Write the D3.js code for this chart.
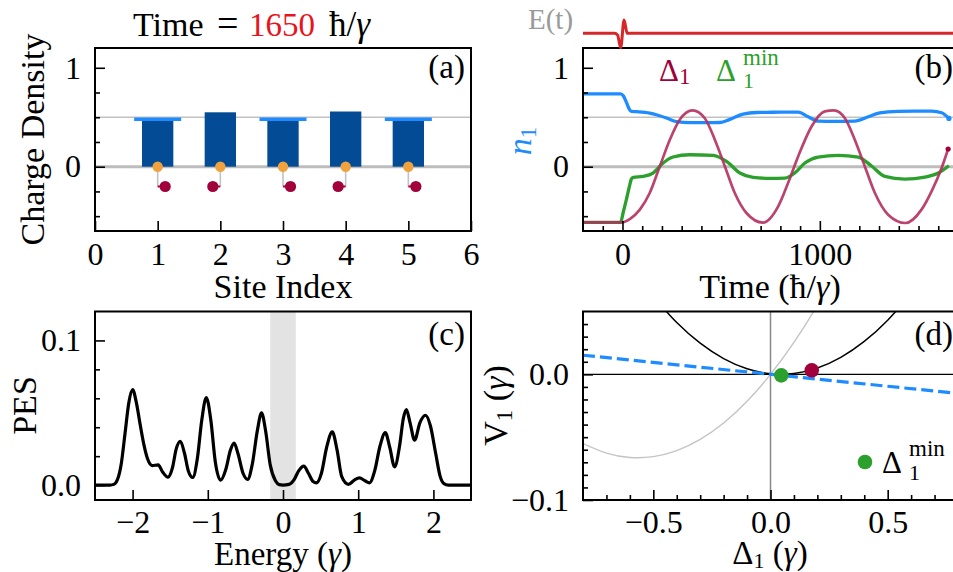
<!DOCTYPE html>
<html>
<head>
<meta charset="utf-8">
<script src="https://cdn.jsdelivr.net/npm/d3@7/dist/d3.min.js"></script>
<style>
  body { margin: 0; background: #fff; }
  svg { display: block; }
  text { font-family: "Liberation Serif", "Times New Roman", serif; }
</style>
</head>
<body>
<svg id="fig" width="953" height="572"></svg>
<script>
// ---------- (a) charge density per site ----------
const sites = [1, 2, 3, 4, 5];
const chargeDensity = [0.465, 0.55, 0.465, 0.558, 0.465];
const referenceLevel = [0.48, null, 0.48, null, 0.48];
const siteDisplacement = [0.12, -0.12, 0.12, -0.12, 0.12];
const displacedRow = -0.2;
const snapshotTime = 1650;

// ---------- (b) time evolution ----------
const fieldTime  = [-200, -40, -25, -9, 8, 24, 1700];
const fieldValue = [0, 0, -0.12, -1.07, 0.98, 0, 0];

const n1Time = [-200, -10, 5, 20, 35, 45, 70, 138, 180, 223, 274, 342, 420, 494, 544, 611, 680, 730,
                800, 890, 941, 991, 1080, 1177, 1245, 1304, 1397, 1480, 1566, 1617, 1654];
const n1Value = [0.737, 0.737, 0.715, 0.65, 0.58, 0.559, 0.556, 0.542, 0.52, 0.492, 0.455, 0.445, 0.446,
                 0.447, 0.478, 0.532, 0.548, 0.549, 0.552, 0.552, 0.505, 0.461, 0.458, 0.461, 0.505,
                 0.545, 0.56, 0.562, 0.562, 0.545, 0.488];

const deltaTime = [-200, -2, 37, 88, 138, 189, 240, 290, 355, 417, 468, 519, 569, 628, 712, 789, 839,
                   890, 958, 1025, 1071, 1127, 1177, 1228, 1279, 1346, 1434, 1515, 1566, 1617, 1650];
const deltaValue = [-0.562, -0.562, -0.529, -0.434, -0.266, 0.003, 0.273, 0.475, 0.569, 0.49, 0.273,
                    0.003, -0.266, -0.468, -0.565, -0.401, -0.165, 0.104, 0.407, 0.559, 0.569, 0.49,
                    0.273, 0.003, -0.266, -0.485, -0.569, -0.434, -0.249, -0.013, 0.179];

const deltaMinTime = [-200, -10, 5, 20, 35, 45, 55, 104, 155, 206, 256, 341, 459, 527, 595, 662, 747,
                      823, 873, 924, 991, 1093, 1194, 1262, 1329, 1431, 1532, 1600, 1654];
const deltaMinValue = [-0.562, -0.562, -0.45, -0.33, -0.2, -0.125, -0.108, -0.098, -0.064, 0.037, 0.098,
                       0.121, 0.115, 0.054, -0.064, -0.108, -0.118, -0.115, -0.064, 0.037, 0.098, 0.115,
                       0.098, 0.007, -0.098, -0.125, -0.105, -0.064, 0.01];

// ---------- (c) photoemission spectrum ----------
const energy = [-2.5, -2.3, -2.25, -2.2, -2.15, -2.1, -2.05, -2.0, -1.95, -1.9, -1.85, -1.8, -1.74, -1.66,
                -1.6, -1.53, -1.47, -1.42, -1.365, -1.31, -1.26, -1.2, -1.14, -1.08, -1.02, -0.96, -0.9,
                -0.83, -0.76, -0.7, -0.65, -0.6, -0.53, -0.47, -0.41, -0.34, -0.285, -0.23, -0.17, -0.1,
                -0.05, 0.0, 0.08, 0.15, 0.21, 0.276, 0.34, 0.4, 0.446, 0.51, 0.58, 0.655, 0.72, 0.78,
                0.87, 0.95, 1.016, 1.09, 1.15, 1.22, 1.29, 1.36, 1.42, 1.484, 1.55, 1.6, 1.64, 1.69,
                1.75, 1.82, 1.894, 1.96, 2.03, 2.09, 2.14, 2.2, 2.5];
const pes = [0, 0, 0.0005, 0.004, 0.015, 0.036, 0.057, 0.066, 0.057, 0.042, 0.028, 0.018, 0.0135, 0.014,
             0.009, 0.0055, 0.012, 0.025, 0.0303, 0.022, 0.01, 0.0053, 0.018, 0.045, 0.0605, 0.045, 0.016,
             0.0034, 0.011, 0.024, 0.029, 0.022, 0.008, 0.0039, 0.014, 0.038, 0.0499, 0.037, 0.014, 0.003,
             0.0003, 0, 0.0005, 0.004, 0.01, 0.0131, 0.008, 0.0025, 0.0016, 0.008, 0.026, 0.0368, 0.024,
             0.006, 0.0005, 0.0035, 0.005, 0.003, 0.0016, 0.01, 0.027, 0.0363, 0.026, 0.0126, 0.027,
             0.046, 0.0522, 0.043, 0.031, 0.043, 0.0483, 0.041, 0.022, 0.006, 0.001, 0, 0];
const gapBand = [-0.17, 0.17];

// ---------- (d) potential landscape ----------
const potDelta = [-0.5, -0.4, -0.3, -0.2, -0.1, 0.0, 0.1, 0.2, 0.3, 0.4, 0.5, 0.6];
const potNow   = [0.0618, 0.0412, 0.0248, 0.0125, 0.0044, 0.0004, 0.0006, 0.005, 0.0135, 0.0262, 0.0431, 0.0641];
const potInitDelta = [-0.8, -0.7, -0.6, -0.5, -0.4, -0.3, -0.2, -0.1, 0.0, 0.1, 0.2, 0.3];
const potInit      = [-0.0551, -0.0627, -0.0662, -0.0655, -0.0607, -0.0518, -0.0387, -0.0214, 0.0, 0.0254, 0.0551, 0.0888];
const forceDelta = [-0.8, 0.8];
const forceLine  = [0.0152, -0.0152];
const currentPoint = [0.176, 0.0032];
const minimumPoint = [0.046, -0.0008];

// ---------- drawing ----------
const svg = d3.select("#fig");
const FS = 32;      // tick labels
const LS = 34;      // axis labels
const C = {
  bar: "#044b96", ref: "#1e8cff", orange: "#f0a23e", crimson: "#a2003b",
  n1: "#1e8cff", delta: "#b3305e", deltaMin: "#2ca02c", field: "#d62728",
  grid: "#c2c2c2", zeroGrid: "#bdbdbd"
};

function makePanel(id, box, xDomain, yDomain) {
  const x = d3.scaleLinear().domain(xDomain).range([box.left, box.right]);
  const y = d3.scaleLinear().domain(yDomain).range([box.bottom, box.top]);
  svg.append("clipPath").attr("id", "clip-" + id).append("rect")
    .attr("x", box.left).attr("y", box.top)
    .attr("width", box.right - box.left).attr("height", box.bottom - box.top);
  const plot = svg.append("g").attr("clip-path", `url(#clip-${id})`);
  return { x, y, plot, box };
}

function styleAxis(g) {
  g.select(".domain").remove();
  g.selectAll(".tick line").attr("stroke", "#000").attr("stroke-width", 1.6);
  g.selectAll("text").attr("font-size", FS).attr("font-family", '"Liberation Serif", serif').attr("fill", "#000");
}

function drawAxes(p, o) {
  const b = p.box;
  // major ticks point inward
  styleAxis(svg.append("g").attr("transform", `translate(0,${b.bottom})`)
    .call(d3.axisBottom(p.x).tickValues(o.xMajor).tickSize(-10).tickPadding(o.xPad || 11).tickFormat(o.xFmt)));
  if (o.xMinor) styleAxis(svg.append("g").attr("transform", `translate(0,${b.bottom})`)
    .call(d3.axisBottom(p.x).tickValues(o.xMinor).tickSize(-5).tickFormat("")));
  styleAxis(svg.append("g").attr("transform", `translate(${b.left},0)`)
    .call(d3.axisLeft(p.y).tickValues(o.yMajor).tickSize(-10).tickPadding(14).tickFormat(o.yFmt)));
  if (o.yMinor) styleAxis(svg.append("g").attr("transform", `translate(${b.left},0)`)
    .call(d3.axisLeft(p.y).tickValues(o.yMinor).tickSize(-5).tickFormat("")));
  svg.append("rect").attr("x", b.left).attr("y", b.top)
    .attr("width", b.right - b.left).attr("height", b.bottom - b.top)
    .attr("fill", "none").attr("stroke", "#000").attr("stroke-width", 2);
}

function label(x, y, parts, opts = {}) {
  const g = svg.append("g").attr("transform", `translate(${x},${y})` + (opts.rotate ? " rotate(-90)" : ""));
  const t = g.append("text").attr("font-size", opts.size || LS)
    .attr("text-anchor", opts.anchor || "middle").attr("fill", opts.fill || "#000");
  parts.forEach(p => {
    const s = t.append("tspan").text(p.t);
    if (p.dy) s.attr("dy", p.dy);
    if (p.size) s.attr("font-size", p.size);
    if (p.italic) s.attr("font-style", "italic");
    if (p.fill) s.attr("fill", p.fill);
  });
  return t;
}

const zip = (a, b) => a.map((v, i) => [v, b[i]]);

// ---------------- panel (a) ----------------
const pa = makePanel("a", { left: 95, right: 471, top: 48, bottom: 231 }, [0, 6], [-0.65, 1.2]);
pa.plot.append("line").attr("x1", pa.box.left).attr("x2", pa.box.right)
  .attr("y1", pa.y(0.5)).attr("y2", pa.y(0.5)).attr("stroke", C.grid).attr("stroke-width", 1.5);
pa.plot.append("line").attr("x1", pa.box.left).attr("x2", pa.box.right)
  .attr("y1", pa.y(0)).attr("y2", pa.y(0)).attr("stroke", C.zeroGrid).attr("stroke-width", 3);
const siteData = sites.map((s, i) => ({ s, n: chargeDensity[i], ref: referenceLevel[i], d: siteDisplacement[i] }));
pa.plot.selectAll(".bar").data(siteData).join("rect").attr("class", "bar")
  .attr("x", d => pa.x(d.s - 0.25)).attr("width", d => pa.x(d.s + 0.25) - pa.x(d.s - 0.25))
  .attr("y", d => pa.y(d.n)).attr("height", d => pa.y(0) - pa.y(d.n)).attr("fill", C.bar);
pa.plot.selectAll(".ref").data(siteData.filter(d => d.ref !== null)).join("line").attr("class", "ref")
  .attr("x1", d => pa.x(d.s - 0.375)).attr("x2", d => pa.x(d.s + 0.375))
  .attr("y1", d => pa.y(d.ref)).attr("y2", d => pa.y(d.ref)).attr("stroke", C.ref).attr("stroke-width", 3.5);
pa.plot.selectAll(".stem").data(siteData).join("line").attr("class", "stem")
  .attr("x1", d => pa.x(d.s)).attr("x2", d => pa.x(d.s))
  .attr("y1", pa.y(0)).attr("y2", pa.y(displacedRow)).attr("stroke", C.grid).attr("stroke-width", 1.6);
pa.plot.selectAll(".arm").data(siteData).join("line").attr("class", "arm")
  .attr("x1", d => pa.x(d.s)).attr("x2", d => pa.x(d.s + d.d))
  .attr("y1", pa.y(displacedRow)).attr("y2", pa.y(displacedRow)).attr("stroke", C.crimson).attr("stroke-width", 2);
pa.plot.selectAll(".site").data(siteData).join("circle").attr("class", "site")
  .attr("cx", d => pa.x(d.s)).attr("cy", pa.y(0)).attr("r", 5.2).attr("fill", C.orange);
pa.plot.selectAll(".ion").data(siteData).join("circle").attr("class", "ion")
  .attr("cx", d => pa.x(d.s + d.d)).attr("cy", pa.y(displacedRow)).attr("r", 5.6).attr("fill", C.crimson);
drawAxes(pa, { xMajor: [0, 1, 2, 3, 4, 5, 6], xFmt: d3.format("d"),
               yMajor: [0, 1], yFmt: d3.format("d"), yMinor: [-0.5, -0.25, 0.25, 0.5, 0.75] });
label(44, 139.5, [{ t: "Charge Density" }], { rotate: true });
label(283, 298, [{ t: "Site Index" }]);
// title, assembled piece by piece
label(133, 36, [{ t: "Time" }], { anchor: "start", size: 34 });
label(217, 36, [{ t: "=" }], { anchor: "start", size: 38 });
label(249, 36, [{ t: String(snapshotTime) }], { anchor: "start", size: 33, fill: "#e8141c" });
label(329, 36, [{ t: "ħ/" }, { t: "γ", italic: true }], { anchor: "start", size: 35 });
label(465, 78, [{ t: "(a)" }], { anchor: "end", size: 33 });

// ---------------- panel (b) ----------------
const pb = makePanel("b", { left: 583, right: 958, top: 48, bottom: 231 }, [-200, 1700], [-0.65, 1.2]);
pb.plot.append("line").attr("x1", pb.box.left).attr("x2", pb.box.right)
  .attr("y1", pb.y(0.5)).attr("y2", pb.y(0.5)).attr("stroke", C.grid).attr("stroke-width", 1.5);
pb.plot.append("line").attr("x1", pb.box.left).attr("x2", pb.box.right)
  .attr("y1", pb.y(0)).attr("y2", pb.y(0)).attr("stroke", C.zeroGrid).attr("stroke-width", 3);
const lineB = d3.line().x(d => pb.x(d[0])).y(d => pb.y(d[1])).curve(d3.curveMonotoneX);
pb.plot.append("path").attr("d", lineB(zip(n1Time, n1Value)))
  .attr("fill", "none").attr("stroke", C.n1).attr("stroke-width", 3.3);
pb.plot.append("circle").attr("cx", pb.x(n1Time.at(-1))).attr("cy", pb.y(n1Value.at(-1))).attr("r", 2.6).attr("fill", C.n1);
pb.plot.append("path").attr("d", lineB(zip(deltaMinTime, deltaMinValue)))
  .attr("fill", "none").attr("stroke", C.deltaMin).attr("stroke-width", 3.3);
pb.plot.append("path").attr("d", lineB(zip(deltaTime, deltaValue)))
  .attr("fill", "none").attr("stroke", C.delta).attr("stroke-width", 2.7).attr("stroke-opacity", 0.9);
pb.plot.append("circle").attr("cx", pb.x(deltaTime.at(-1))).attr("cy", pb.y(deltaValue.at(-1))).attr("r", 2.6).attr("fill", C.crimson);
drawAxes(pb, { xMajor: [0, 1000], xFmt: d3.format("d"),
               xMinor: [-100, 100, 200, 300, 400, 500, 600, 700, 800, 900, 1100, 1200, 1300, 1400, 1500, 1600],
               yMajor: [0, 1], yFmt: d3.format("d"), yMinor: [-0.5, -0.25, 0.25, 0.5, 0.75] });
// driving field strip above the panel
const yField = d3.scaleLinear().domain([-1, 1]).range([46.8, 19.8]);
svg.append("clipPath").attr("id", "clip-field").append("rect").attr("x", 582).attr("y", 0).attr("width", 376).attr("height", 50);
svg.append("path").attr("clip-path", "url(#clip-field)")
  .attr("d", d3.line().x(d => pb.x(d[0])).y(d => yField(d[1])).curve(d3.curveMonotoneX)(zip(fieldTime, fieldValue)))
  .attr("fill", "none").attr("stroke", C.field).attr("stroke-width", 3);
label(528, 29, [{ t: "E(t)" }], { anchor: "start", size: 29, fill: "#9a9a9a" });
label(531, 141, [{ t: "n", italic: true }, { t: "1", size: 23, dy: 5 }], { rotate: true, fill: C.n1 });
label(770, 298, [{ t: "Time (ħ/" }, { t: "γ", italic: true }, { t: ")" }]);
label(953, 78, [{ t: "(b)" }], { anchor: "end", size: 33 });
label(659, 81, [{ t: "Δ" }, { t: "1", size: 23, dy: 3 }], { anchor: "start", size: 31, fill: C.crimson });
label(716, 81, [{ t: "Δ" }], { anchor: "start", size: 31, fill: C.deltaMin });
label(743, 65, [{ t: "min" }], { anchor: "start", size: 23, fill: C.deltaMin });
label(743, 88, [{ t: "1" }], { anchor: "start", size: 22, fill: C.deltaMin });

// ---------------- panel (c) ----------------
const pc = makePanel("c", { left: 95, right: 471, top: 311.5, bottom: 500 }, [-2.5, 2.5], [-0.0103, 0.12]);
pc.plot.append("rect").attr("x", pc.x(gapBand[0])).attr("width", pc.x(gapBand[1]) - pc.x(gapBand[0]))
  .attr("y", pc.box.top).attr("height", pc.box.bottom - pc.box.top).attr("fill", "#e3e3e3");
pc.plot.append("path")
  .attr("d", d3.line().x(d => pc.x(d[0])).y(d => pc.y(d[1])).curve(d3.curveMonotoneX)(zip(energy, pes)))
  .attr("fill", "none").attr("stroke", "#000").attr("stroke-width", 3.2).attr("stroke-linejoin", "round");
drawAxes(pc, { xMajor: [-2, -1, 0, 1, 2], xFmt: d3.format("d"), xPad: 10,
               yMajor: [0, 0.1], yFmt: d3.format(".1f"), yMinor: [0.02, 0.04, 0.06, 0.08] });
label(36, 405.5, [{ t: "PES" }], { rotate: true });
label(283, 565, [{ t: "Energy (" }, { t: "γ", italic: true }, { t: ")" }], { size: 33 });
label(465, 345, [{ t: "(c)" }], { anchor: "end", size: 33 });

// ---------------- panel (d) ----------------
const pd = makePanel("d", { left: 583, right: 958, top: 311.5, bottom: 500 }, [-0.8, 0.8], [-0.1, 0.05]);
pd.plot.append("line").attr("x1", pd.x(0)).attr("x2", pd.x(0)).attr("y1", pd.box.top).attr("y2", pd.box.bottom)
  .attr("stroke", "#888").attr("stroke-width", 1.5);
pd.plot.append("line").attr("x1", pd.box.left).attr("x2", pd.box.right).attr("y1", pd.y(0)).attr("y2", pd.y(0))
  .attr("stroke", "#000").attr("stroke-width", 1.3);
const lineD = d3.line().x(d => pd.x(d[0])).y(d => pd.y(d[1])).curve(d3.curveNatural);
pd.plot.append("path").attr("d", lineD(zip(potInitDelta, potInit)))
  .attr("fill", "none").attr("stroke", "#c4c4c4").attr("stroke-width", 1.4);
pd.plot.append("path").attr("d", lineD(zip(potDelta, potNow)))
  .attr("fill", "none").attr("stroke", "#000").attr("stroke-width", 1.5);
pd.plot.append("path").attr("d", d3.line().x(d => pd.x(d[0])).y(d => pd.y(d[1]))(zip(forceDelta, forceLine)))
  .attr("fill", "none").attr("stroke", C.n1).attr("stroke-width", 3.2).attr("stroke-dasharray", "12,5");
pd.plot.append("circle").attr("cx", pd.x(minimumPoint[0])).attr("cy", pd.y(minimumPoint[1])).attr("r", 7.3).attr("fill", C.deltaMin);
pd.plot.append("circle").attr("cx", pd.x(currentPoint[0])).attr("cy", pd.y(currentPoint[1])).attr("r", 7.3).attr("fill", C.crimson);
drawAxes(pd, { xMajor: [-0.5, 0, 0.5], xFmt: d3.format(".1f"), xPad: 10,
               xMinor: [-0.7, -0.6, -0.4, -0.3, -0.2, -0.1, 0.1, 0.2, 0.3, 0.4, 0.6, 0.7],
               yMajor: [-0.1, 0], yFmt: d3.format(".1f"),
               yMinor: d3.range(-9, 5).filter(k => k !== 0).map(k => k / 100) });
label(507, 405.5, [{ t: "V" }, { t: "1", size: 23, dy: 5 }, { t: " (", dy: -5 }, { t: "γ", italic: true }, { t: ")" }], { rotate: true });
label(770, 564, [{ t: "Δ" }, { t: "1", size: 22, dy: 4 }, { t: " (", dy: -4 }, { t: "γ", italic: true }, { t: ")" }], { size: 33 });
label(953, 345, [{ t: "(d)" }], { anchor: "end", size: 33 });
svg.append("circle").attr("cx", 865).attr("cy", 462).attr("r", 7.3).attr("fill", C.deltaMin);
label(882, 473, [{ t: "Δ" }], { anchor: "start", size: 31 });
label(909, 456, [{ t: "min" }], { anchor: "start", size: 23 });
label(909, 480, [{ t: "1" }], { anchor: "start", size: 22 });
</script>
</body>
</html>
